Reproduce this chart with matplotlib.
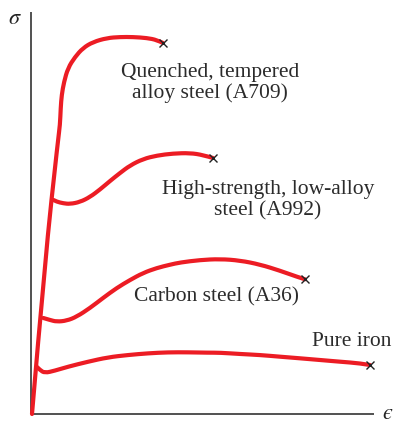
import matplotlib.pyplot as plt
from matplotlib.path import Path
from matplotlib.patches import PathPatch

plt.rcParams["mathtext.fontset"] = "stix"

# stress-strain sketches, strain/stress in arbitrary units (origin at lower left)
quenched_strain = [0, 13, 26, 28, 28.7, 29.7, 32, 36, 43, 51, 61, 75, 88, 101, 115, 125, 131]
quenched_stress = [0, 154, 274, 289, 306, 319, 332, 346, 357, 366, 372, 376, 377, 377, 376, 374, 371]

hsla_strain = [21.5, 24.7, 31.3, 38, 48, 58, 68, 78, 88, 98, 111, 125, 141, 158, 171, 181]
hsla_stress = [214, 212.3, 210.7, 210, 212, 217, 224.5, 233, 241, 248.5, 255, 258.5, 260.5, 261, 259, 256]

carbon_strain = [11.3, 18, 24.7, 34.7, 44.7, 58, 71, 84.7, 98, 111, 124.7, 138,
                 148, 168, 188, 208, 228, 248, 264.7, 273]
carbon_stress = [96, 94, 92.3, 93.3, 97.3, 106, 116, 126, 134, 141, 146, 149.3,
                 151.5, 154, 155, 153.5, 149.5, 143.3, 137.3, 134.7]

iron_strain = [5, 8, 12.7, 22.7, 36, 56, 76, 96, 116, 136, 156, 176, 188, 208, 228,
               248, 268, 288, 308, 328, 338]
iron_stress = [47, 44, 41, 43.3, 47.3, 52.3, 56.7, 59, 60.7, 61.7, 61.7, 61.3, 61.3,
               60, 59, 57.3, 55.7, 54, 52.3, 50.7, 49]

curves = [
    (quenched_strain, quenched_stress),
    (hsla_strain, hsla_stress),
    (carbon_strain, carbon_stress),
    (iron_strain, iron_stress),
]

labels = [
    ("Quenched, tempered\nalloy steel (A709)", 178, 331),
    ("High-strength, low-alloy\nsteel (A992)", 236, 214),
    ("Carbon steel (A36)", 185, 117),
    ("Pure iron", 320, 72),
]

RED = "#ec1c24"


def smooth_path(xs, ys):
    # quadratic bezier through midpoints, keeps both end points exact
    pts = list(zip(xs, ys))
    verts = [pts[0]]
    codes = [Path.MOVETO]
    n = len(pts)
    for i in range(1, n - 1):
        x0, y0 = pts[i]
        if i == n - 2:
            end = pts[i + 1]
        else:
            x1, y1 = pts[i + 1]
            end = ((x0 + x1) / 2, (y0 + y1) / 2)
        verts += [pts[i], end]
        codes += [Path.CURVE3, Path.CURVE3]
    return Path(verts, codes)


fig = plt.figure(figsize=(3.94, 4.24), dpi=100)
ax = fig.add_axes([0, 0, 1, 1])
ax.set_xlim(-32, 362)
ax.set_ylim(-10, 414)
ax.axis("off")

# axes drawn by hand so they stop where the sketch wants them
ax.plot([-1, -1], [0, 402], color="#222222", lw=1.1, solid_capstyle="butt")
ax.plot([-1, 342], [0, 0], color="#222222", lw=1.1, solid_capstyle="butt")

for strain, stress in curves:
    patch = PathPatch(smooth_path(strain, stress), facecolor="none", edgecolor=RED,
                      lw=3.0, joinstyle="round", capstyle="round", zorder=3)
    ax.add_patch(patch)
    ax.plot(strain[-1], stress[-1], marker="x", color="#222222", ms=6,
            mew=1.0, zorder=4)

for text, x, y in labels:
    ax.text(x, y, text, ha="center", va="center", fontsize=15.5,
            family="Liberation Serif", color="#2b2b2b", linespacing=1.15)

ax.text(-17, 396, r"$\sigma$", fontsize=16, ha="center", va="center",
        color="#222222")
ax.text(356, 1, "$\u03f5$", fontsize=16, ha="center", va="center",
        color="#222222")

fig.savefig("out.png", dpi=100)
